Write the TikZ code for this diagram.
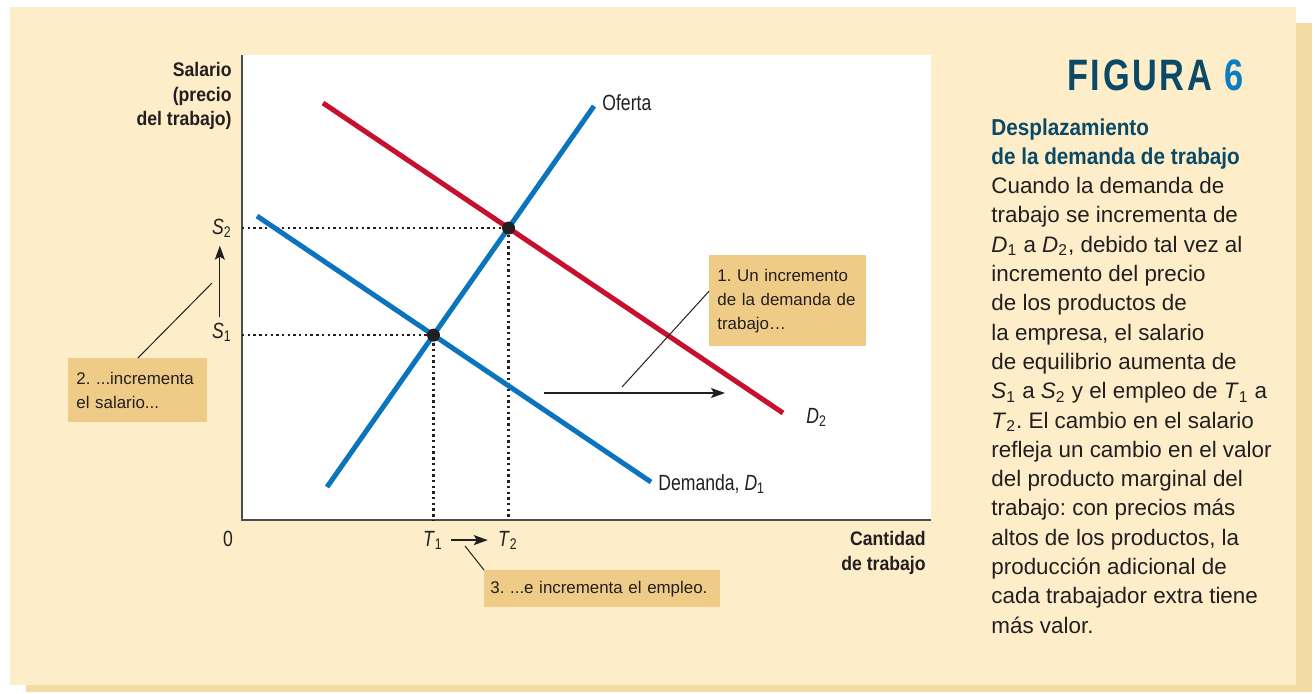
\documentclass[tikz,border=0pt]{standalone}
\usepackage{fontspec}
\setmainfont{Liberation Sans}
\newfontfamily\condfont{Liberation Sans}[FakeStretch=0.8]
\newfontfamily\axisfont{Liberation Sans}[FakeStretch=0.9]
\newfontfamily\figfont{Liberation Sans}[FakeStretch=0.78,LetterSpace=6]
\usetikzlibrary{arrows.meta,positioning,calc}
\frenchspacing
\hyphenpenalty=10000

\definecolor{paneltan}{HTML}{FEEDC9}
\definecolor{panelshadow}{HTML}{F3DCA4}
\definecolor{notefill}{HTML}{EECB86}
\definecolor{inkcol}{HTML}{231F20}
\definecolor{demred}{HTML}{C8102E}
\definecolor{curveblue}{HTML}{0A75BE}
\definecolor{titleteal}{HTML}{0B4A67}
\definecolor{figblue}{HTML}{0A7CC2}

\newcommand\vsub[2]{\textit{#1}\textsubscript{#2}}

\begin{document}
\begin{tikzpicture}[x=0.5pt, y=-0.5pt,
    lbl/.style={font=\condfont\fontsize{11}{13}\selectfont, text=inkcol, inner sep=0pt},
    axlbl/.style={font=\axisfont\bfseries\fontsize{9.8}{12.25}\selectfont, text=inkcol,
      align=right, inner sep=0pt},
    note/.style={fill=notefill, text=inkcol, align=left, anchor=north west,
      inner xsep=4pt, inner ysep=0pt, font=\fontsize{8.45}{12}\selectfont},
    curve/.style={line width=2.5pt},
    dots/.style={line width=1.2pt, dash pattern=on 1.2pt off 1.65pt, inkcol},
    eqdot/.style={circle, fill=inkcol, inner sep=0pt, minimum size=6.5pt},
    arrow/.style={-{Stealth[length=7pt, width=5pt, inset=1.5pt]}, line width=0.6pt, inkcol},
    lead/.style={line width=0.5pt, inkcol}
  ]
    \useasboundingbox (0,0) rectangle (1315,693);
    % panel and plot area
    \fill[panelshadow] (26,23) rectangle (1312,692);
    \fill[paneltan] (10,7) rectangle (1296,685);
    \fill[white] (242,55) rectangle (931,520);
    \coordinate (o) at (242,520);
    \draw[line width=0.65pt, black!70] (242,55) -- (o) -- (931,520);

    % curves
    \coordinate (d2a) at (323,103);
    \coordinate (d2b) at (783,413);
    \coordinate (d1a) at (257,216);
    \coordinate (d1b) at (651,482);
    \coordinate (ofa) at (327,487);
    \coordinate (ofb) at (594,106);
    \coordinate (e1) at (intersection of d1a--d1b and ofa--ofb);
    \coordinate (e2) at (intersection of d2a--d2b and ofa--ofb);
    \draw[dots] (o |- e1) -- (e1) -- (o -| e1);
    \draw[dots] (o |- e2) -- (e2) -- (o -| e2);
    \draw[curve, demred] (d2a) -- (d2b);
    \draw[curve, curveblue] (d1a) -- (d1b);
    \draw[curve, curveblue] (ofa) -- (ofb);
    \node[eqdot] (p1) at (e1) {};
    \node[eqdot] (p2) at (e2) {};

    % labels
    \node[lbl, anchor=base west] (oferta) at (602,110) {Oferta};
    \node[lbl, anchor=base west] (dlab2) at (806,423) {\vsub{D}{2}};
    \node[lbl, anchor=base west] (dlab1) at (658,490) {Demanda, \vsub{D}{1}};
    \node[lbl, anchor=base east] (s2) at (232,234) {\vsub{S}{2}};
    \node[lbl, anchor=base east] (s1) at (232,338) {\vsub{S}{1}};
    \node[lbl, anchor=base] (zero) at (228,546) {0};
    \node[lbl, anchor=base] (t1) at (433,546) {\vsub{T}{1}};
    \node[lbl, anchor=base] (t2) at (508,546) {\vsub{T}{2}};
    \node[axlbl, anchor=north east] (ylab) at (232,62) {Salario\\(precio\\del trabajo)};
    \node[axlbl, anchor=north east] (xlab) at (926,531) {Cantidad\\de trabajo};

    \draw[arrow] ([shift={(-2,-5)}]s1.north) -- ([shift={(-2,8)}]s2.south);
    \draw[arrow] ([xshift=4pt]t1.east) -- ([xshift=-5pt]t2.west);
    \coordinate (sh0) at (544,393);
    \coordinate (sh1) at (725,393);
    \draw[arrow] (sh0) -- (sh1);

    % notes
    \node[note, text width=70.5pt, minimum height=45.5pt] (note1) at (709,255)
      {1. Un incremento\\de la demanda de\\trabajo…};
    \node[note, text width=61.5pt, minimum height=32pt] (note2) at (68,358)
      {2. ...incrementa\\el salario...};
    \node[note, inner xsep=3pt, text width=112pt, minimum height=18.5pt] (note3) at (484,570)
      {3. ...e incrementa el empleo.};
    \coordinate (lead1) at (622,387);
    \coordinate (lead2) at (212,283);
    \coordinate (lead3) at (465,546);
    \draw[lead] (note1.173) -- (lead1);
    \draw[lead] (note2.north) -- (lead2);
    \draw[lead] (note3.north west) -- (lead3);

    % caption column
    \node[anchor=base west, inner sep=0pt, font=\figfont\bfseries\fontsize{22}{26}\selectfont]
      (fig) at (1067,90) {\textcolor{titleteal}{FIGURA} \textcolor{figblue}{6}};
    \node[anchor=north west, inner sep=0pt, align=left, text=inkcol,
      font=\fontsize{11.2}{14.65}\selectfont] (caption) at (991,118)
      {{\axisfont\bfseries\fontsize{11.5}{14.65}\selectfont\color{titleteal}Desplazamiento}\\
       {\axisfont\bfseries\fontsize{11.5}{14.65}\selectfont\color{titleteal}de la demanda de trabajo}\\
       Cuando la demanda de\\
       trabajo se incrementa de\\
       \vsub{D}{1} a \vsub{D}{2}, debido tal vez al\\
       incremento del precio\\
       de los productos de\\
       la empresa, el salario\\
       de equilibrio aumenta de\\
       \vsub{S}{1} a \vsub{S}{2} y el empleo de \vsub{T}{1} a\\
       \vsub{T}{2}. El cambio en el salario\\
       refleja un cambio en el valor\\
       del producto marginal del\\
       trabajo: con precios más\\
       altos de los productos, la\\
       producción adicional de\\
       cada trabajador extra tiene\\
       más valor.};
  \end{tikzpicture}
\end{document}
